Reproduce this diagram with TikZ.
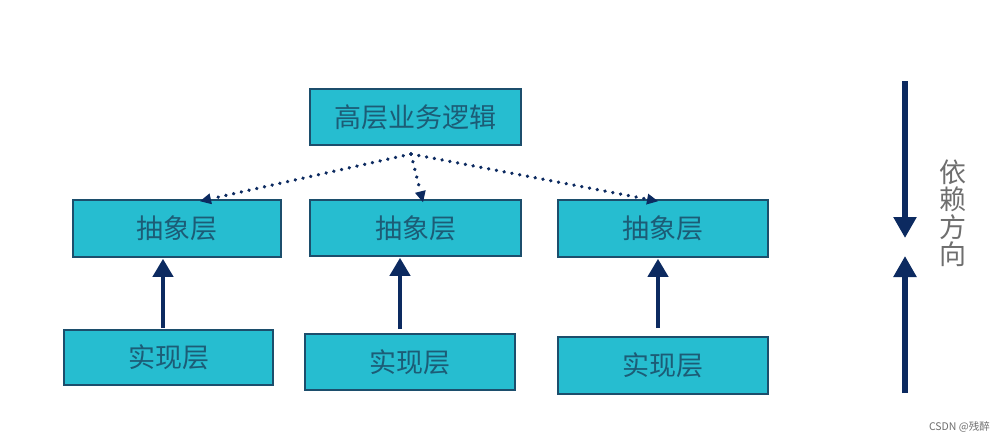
\documentclass[tikz,border=0pt]{standalone}
\usepackage{fontspec}
\newfontfamily\cjk{Noto Sans CJK SC}
\usetikzlibrary{arrows.meta}
\definecolor{boxfill}{RGB}{38,189,208}
\definecolor{boxline}{RGB}{28,78,108}
\definecolor{boxtext}{RGB}{28,92,118}
\definecolor{navy}{RGB}{12,42,96}
\definecolor{graytext}{RGB}{110,110,110}
\tikzset{
  layer/.style={draw=boxline, line width=1.6pt, fill=boxfill, text=boxtext,
    font=\cjk\fontsize{27}{30}\selectfont, inner sep=0pt, anchor=center},
  solidarrow/.style={draw=navy, line width=4pt, -{Triangle[width=20pt,length=18pt]}},
  bigarrow/.style={draw=navy, line width=6.5pt, -{Triangle[width=22pt,length=21pt]}},
  dotarrow/.style={draw=navy, line width=3.6pt, dash pattern=on 0.1pt off 7.8pt, line cap=round,
    -{Triangle[width=11pt,length=11pt,line cap=butt,line width=0pt]}},
}
\begin{document}
\begin{tikzpicture}[x=1pt,y=-1pt]
\useasboundingbox (0,0) rectangle (1001,442);
\fill[white] (0,0) rectangle (1001,442);
% boxes
\node[layer, minimum width=211pt, minimum height=56pt] (top) at (415.5,117) {高层业务逻辑};
\node[layer, minimum width=208pt, minimum height=57pt] (abs1) at (177,228.5) {抽象层};
\node[layer, minimum width=211pt, minimum height=56pt] (abs2) at (415.5,228) {抽象层};
\node[layer, minimum width=210pt, minimum height=57pt] (abs3) at (663,228.5) {抽象层};
\node[layer, minimum width=209pt, minimum height=55pt] (imp1) at (168.5,357.5) {实现层};
\node[layer, minimum width=210pt, minimum height=56pt] (imp2) at (410,362) {实现层};
\node[layer, minimum width=210pt, minimum height=57pt] (imp3) at (663,365.5) {实现层};
% dotted dependency arrows
\coordinate (src) at (411,154);
\draw[dotarrow] (src) -- ([xshift=23pt,yshift=-2pt]abs1.north);
\draw[dotarrow] (src) -- ([xshift=7.5pt,yshift=-3pt]abs2.north);
\draw[dotarrow] (src) -- ([xshift=-5pt,yshift=-2pt]abs3.north);
% solid implementation arrows
\draw[solidarrow] ([xshift=-5.5pt,yshift=1pt]imp1.north) -- ([xshift=-14pt,yshift=-1pt]abs1.south);
\draw[solidarrow] ([xshift=-10pt,yshift=4pt]imp2.north) -- ([xshift=-15.5pt,yshift=-1pt]abs2.south);
\draw[solidarrow] ([xshift=-5pt,yshift=8pt]imp3.north) -- ([xshift=-5pt,yshift=-1pt]abs3.south);
% direction arrows
\coordinate (dtop) at (905,81);
\coordinate (dmid1) at (905,238);
\coordinate (ubot) at (905,393);
\coordinate (dmid2) at (905,256);
\draw[bigarrow] (dtop) -- (dmid1);
\draw[bigarrow] (ubot) -- (dmid2);
\node[text=graytext, font=\cjk\fontsize{27}{27.5}\selectfont, align=center, inner sep=0pt] (dir) at (953,213) {依\\赖\\方\\向};
% watermark
\node[text=graytext, font=\cjk\fontsize{10.5}{12}\selectfont, anchor=east, inner sep=0pt] (wm) at (990,427) {CSDN @残醉};
\end{tikzpicture}
\end{document}
